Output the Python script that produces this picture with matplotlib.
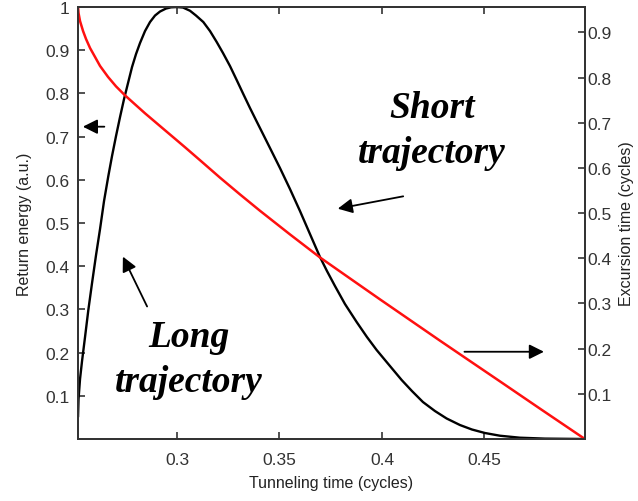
import matplotlib
matplotlib.use("Agg")
import matplotlib.pyplot as plt

plt.rcParams['font.family'] = ['Liberation Sans', 'DejaVu Sans']

# return energy (black, left axis)
t_energy = [0.25171, 0.25195, 0.25268, 0.25366, 0.25512, 0.25673, 0.25854, 0.26049,
            0.26244, 0.26439, 0.26649, 0.26829, 0.27024, 0.27220, 0.27415, 0.27610,
            0.27805, 0.28000, 0.28195, 0.28439, 0.28683, 0.28927, 0.29171, 0.29463,
            0.29707, 0.30000, 0.30293, 0.30634, 0.30927, 0.31283, 0.31610, 0.31937,
            0.32244, 0.32585, 0.32912, 0.33234, 0.33561, 0.33888, 0.34195, 0.34537,
            0.35024, 0.35512, 0.36000, 0.36488, 0.36976, 0.37317, 0.37707, 0.38195,
            0.38766, 0.39268, 0.39741, 0.40390, 0.40961, 0.41463, 0.42000, 0.42585,
            0.43156, 0.43805, 0.44390, 0.45024, 0.45756, 0.46732, 0.47951, 0.49902]
energy = [0.0532, 0.0926, 0.1389, 0.1806, 0.2361, 0.2986, 0.3611, 0.4259,
          0.4861, 0.5509, 0.6088, 0.6551, 0.7014, 0.7454, 0.7870, 0.8241,
          0.8611, 0.8912, 0.9167, 0.9444, 0.9653, 0.9803, 0.9896, 0.9965,
          0.9993, 1.0000, 0.9988, 0.9914, 0.9803, 0.9653, 0.9444, 0.9190,
          0.8935, 0.8634, 0.8310, 0.7986, 0.7662, 0.7350, 0.7060, 0.6736,
          0.6273, 0.5787, 0.5278, 0.4745, 0.4213, 0.3889, 0.3542, 0.3125,
          0.2708, 0.2361, 0.2060, 0.1690, 0.1366, 0.1111, 0.0856, 0.0648,
          0.0475, 0.0324, 0.0220, 0.0139, 0.0076, 0.0030, 0.0009, 0.0]

# excursion time (red, right axis)
t_excursion = [0.25171, 0.25195, 0.25268, 0.25415, 0.25561, 0.25756, 0.26000, 0.26244,
               0.26634, 0.27024, 0.27463, 0.27951, 0.28439, 0.28927, 0.29415, 0.29902,
               0.30390, 0.31122, 0.32098, 0.33073, 0.34049, 0.35512, 0.36976, 0.38439,
               0.39902, 0.41366, 0.42829, 0.44293, 0.45756, 0.47707, 0.49902]
excursion = [0.9558, 0.9426, 0.9249, 0.9029, 0.8852, 0.8653, 0.8455, 0.8256,
             0.8013, 0.7804, 0.7605, 0.7406, 0.7208, 0.7020, 0.6832, 0.6645,
             0.6457, 0.6170, 0.5784, 0.5413, 0.5051, 0.4528, 0.4018, 0.3554,
             0.3091, 0.2634, 0.2177, 0.1726, 0.1276, 0.0673, 0.0]

x_ticks = [0.3, 0.35, 0.4, 0.45]
left_ticks = [0.1, 0.2, 0.3, 0.4, 0.5, 0.6, 0.7, 0.8, 0.9, 1.0]
left_labels = ['0.1', '0.2', '0.3', '0.4', '0.5', '0.6', '0.7', '0.8', '0.9', '1']
right_ticks = [0.1, 0.2, 0.3, 0.4, 0.5, 0.6, 0.7, 0.8, 0.9]

fig = plt.figure(figsize=(6.38, 5.02), dpi=100)
ax1 = fig.add_axes([0.1223, 0.1235, 0.7947, 0.8605])
ax1.plot(t_energy, energy, color='black', lw=1.7)
ax1.set_xlim(0.2517, 0.4991)
ax1.set_ylim(0, 1)
ax1.set_xticks(x_ticks)
ax1.set_xticklabels(['0.3', '0.35', '0.4', '0.45'])
ax1.set_yticks(left_ticks)
ax1.set_yticklabels(left_labels)
ax1.tick_params(direction='in', length=5, width=1.2, top=True, right=True,
                labelsize=12.5, colors='#333333', pad=6)
ax1.tick_params(axis='x', pad=9)
for s in ax1.spines.values():
    s.set_linewidth(1.3)
    s.set_color('#333333')
ax1.set_xlabel('Tunneling time (cycles)', fontsize=11.5, color='#222222', labelpad=6)
ax1.set_ylabel('Return energy (a.u.)', fontsize=11.5, color='#222222', labelpad=10)

ax2 = ax1.twinx()
ax2.plot(t_excursion, excursion, color='#ff1010', lw=1.8)
ax2.set_ylim(0, 0.956)
ax2.set_yticks(right_ticks)
ax2.set_yticklabels(['0.1', '0.2', '0.3', '0.4', '0.5', '0.6', '0.7', '0.8', '0.9'])
ax2.tick_params(direction='in', length=5, width=1.2, labelsize=12.5,
                colors='#333333', pad=2)
for s in ax2.spines.values():
    s.set_linewidth(1.3)
    s.set_color('#333333')
ax2.set_ylabel('Excursion time (cycles)', fontsize=11.5, color='#222222', labelpad=5)

anno_font = dict(family=['Liberation Serif', 'DejaVu Serif'], style='italic',
                 weight='bold', fontsize=27, ha='center', va='baseline')
ax1.text(0.4244, 0.745, 'Short', **anno_font)
ax1.text(0.4244, 0.641, 'trajectory', **anno_font)
ax1.text(0.3059, 0.216, 'Long', **anno_font)
ax1.text(0.3059, 0.112, 'trajectory', **anno_font)

arrow = dict(arrowstyle='-|>', color='black', lw=1.3, mutation_scale=22)
ax1.annotate('', xy=(0.3771, 0.532), xytext=(0.4117, 0.563), arrowprops=arrow)
ax1.annotate('', xy=(0.273, 0.428), xytext=(0.286, 0.301), arrowprops=arrow)
ax1.annotate('', xy=(0.4804, 0.202), xytext=(0.4389, 0.202), arrowprops=arrow)
ax1.annotate('', xy=(0.2527, 0.723), xytext=(0.2659, 0.723), arrowprops=arrow)

fig.savefig('out.png', dpi=100)
